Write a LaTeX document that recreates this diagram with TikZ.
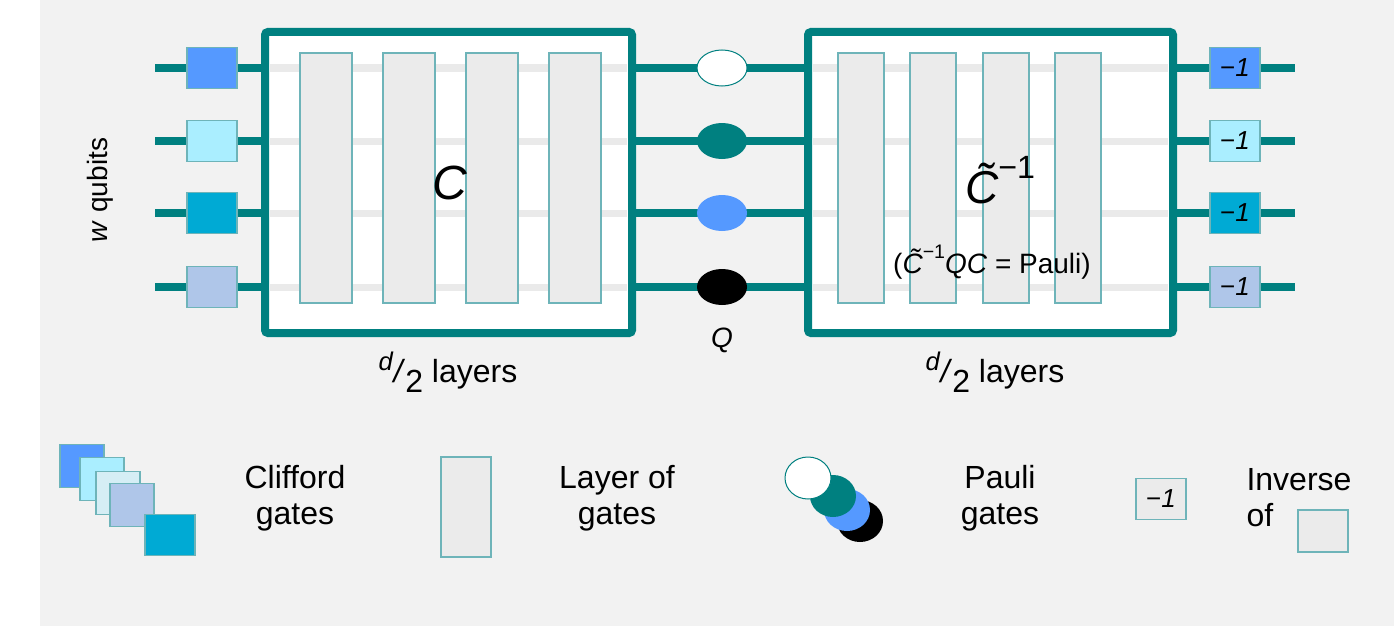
\documentclass[tikz,border=0pt]{standalone}
\usepackage{fontspec}
\setmainfont{Liberation Sans}
\usetikzlibrary{shapes.geometric}
\newcommand{\supx}[1]{\raisebox{0.55em}{\scalebox{0.7}{#1}}}
\newcommand{\Ct}{\textit{\~{C}}}
\newcommand{\mone}{−\textit{1}}
\begin{document}
\begin{tikzpicture}[x=1pt,y=-1pt,
  wire/.style={line width=8pt,draw={rgb,255:red,0;green,128;blue,128}},
  fwire/.style={line width=7pt,draw={rgb,255:red,234;green,234;blue,234}},
  box/.style={line width=8pt,draw=tealc,fill=white,rounded corners=3pt},
  layer/.style={draw=lteal,fill=lgray,line width=1.2pt,minimum width=52pt,minimum height=250pt,inner sep=0},
  cg/.style={draw=lteal,line width=1.5pt,minimum width=50pt,minimum height=41pt,inner sep=0},
  pg/.style={ellipse,minimum width=50pt,minimum height=36pt,inner sep=0},
  txt/.style={font=\fontsize{32}{36}\selectfont,align=center}]
\definecolor{tealc}{RGB}{0,128,128}
\definecolor{lteal}{RGB}{110,180,185}
\definecolor{lgray}{RGB}{235,235,235}
\definecolor{bgc}{RGB}{242,242,242}
\definecolor{c1}{RGB}{85,153,255}
\definecolor{c2}{RGB}{170,238,255}
\definecolor{c3}{RGB}{0,170,212}
\definecolor{c4}{RGB}{175,198,233}
\definecolor{c5}{RGB}{213,238,245}
\useasboundingbox (0,0) rectangle (1394,626);
\fill[bgc] (40,0) rectangle (1394,626);
\foreach \y in {68,141,213,287}{\draw[wire] (155,\y) -- (1295,\y);}
\draw[box] (265,32) rectangle (632,333);
\draw[box] (808,32) rectangle (1173,333);
\foreach \y in {68,141,213,287}{\draw[fwire] (270,\y) -- (627,\y); \draw[fwire] (813,\y) -- (1168,\y);}
\foreach \x/\n in {326/a,409/b,492/c,575/d}{\node[layer] (L\n) at (\x,178) {};}
\foreach \x/\n in {861/a,933/b,1006/c,1078/d}{\node[layer,minimum width=46pt] (R\n) at (\x,178) {};}
\node[txt,font=\fontsize{48}{50}\selectfont\itshape] (C) at (450,183) {C};
\node[txt,font=\fontsize{46}{50}\selectfont] (Ci) at (1000,180) {\Ct\supx{−1}};
\node[txt,font=\fontsize{28}{32}\selectfont] (eq) at (992,262) {(\Ct\supx{−1}\textit{QC} = Pauli)};
\foreach \y/\c/\n in {68/c1/1,141/c2/2,213/c3/3,287/c4/4}{
  \node[cg,fill=\c] (g\n) at (212,\y) {};
  \node[cg,fill=\c,font=\fontsize{26}{28}\selectfont] (i\n) at (1235,\y) {\mone};}
\node[pg,draw=tealc,fill=white,line width=1pt] (p1) at (722,68) {};
\node[pg,fill=tealc] (p2) at (722,141) {};
\node[pg,fill=c1] (p3) at (722,213) {};
\node[pg,fill=black] (p4) at (722,287) {};
\node[txt,font=\fontsize{28}{32}\selectfont\itshape] (Q) at (722,340) {Q};
\node[txt] (d1) at (448,372) {\raisebox{0.4em}{\scalebox{0.8}{\textit{d}}}\textit{/}\raisebox{-0.3em}{2} layers};
\node[txt] (d2) at (995,372) {\raisebox{0.4em}{\scalebox{0.8}{\textit{d}}}\textit{/}\raisebox{-0.3em}{2} layers};
\node[txt,font=\fontsize{28}{32}\selectfont,rotate=90] (wq) at (100,190) {\textit{w} qubits};
\node[cg,fill=c1,minimum width=44pt,minimum height=43pt] (k1) at (82,466) {};
\node[cg,fill=c2,minimum width=44pt,minimum height=43pt] (k2) at (102,479) {};
\node[cg,fill=c5,minimum width=44pt,minimum height=43pt] (k3) at (118,493) {};
\node[cg,fill=c4,minimum width=44pt,minimum height=43pt] (k4) at (132,505) {};
\node[cg,fill=c3,minimum width=50pt,minimum height=41pt] (k5) at (170,535) {};
\node[txt] (t1) at (295,498) {Clifford\\gates};
\node[layer,minimum width=50pt,minimum height=100pt] (kl) at (466,507) {};
\node[txt] (t2) at (617,498) {Layer of\\gates};
\node[pg,fill=black,minimum width=46pt,minimum height=42pt] (e4) at (860,521) {};
\node[pg,fill=c1,minimum width=46pt,minimum height=42pt] (e3) at (847,510) {};
\node[pg,fill=tealc,minimum width=46pt,minimum height=42pt] (e2) at (833,496) {};
\node[pg,draw=tealc,fill=white,line width=1pt,minimum width=46pt,minimum height=42pt] (e1) at (808,478) {};
\node[txt] (t3) at (1000,498) {Pauli\\gates};
\node[cg,fill=lgray,font=\fontsize{26}{28}\selectfont] (ki) at (1161,499) {\mone};
\node[txt,align=left,anchor=west] (t4) at (1243,498) {Inverse\\of};
\node[cg,fill=lgray,minimum width=50pt,minimum height=42pt] (ks) at (1323,531) {};
\end{tikzpicture}
\end{document}
